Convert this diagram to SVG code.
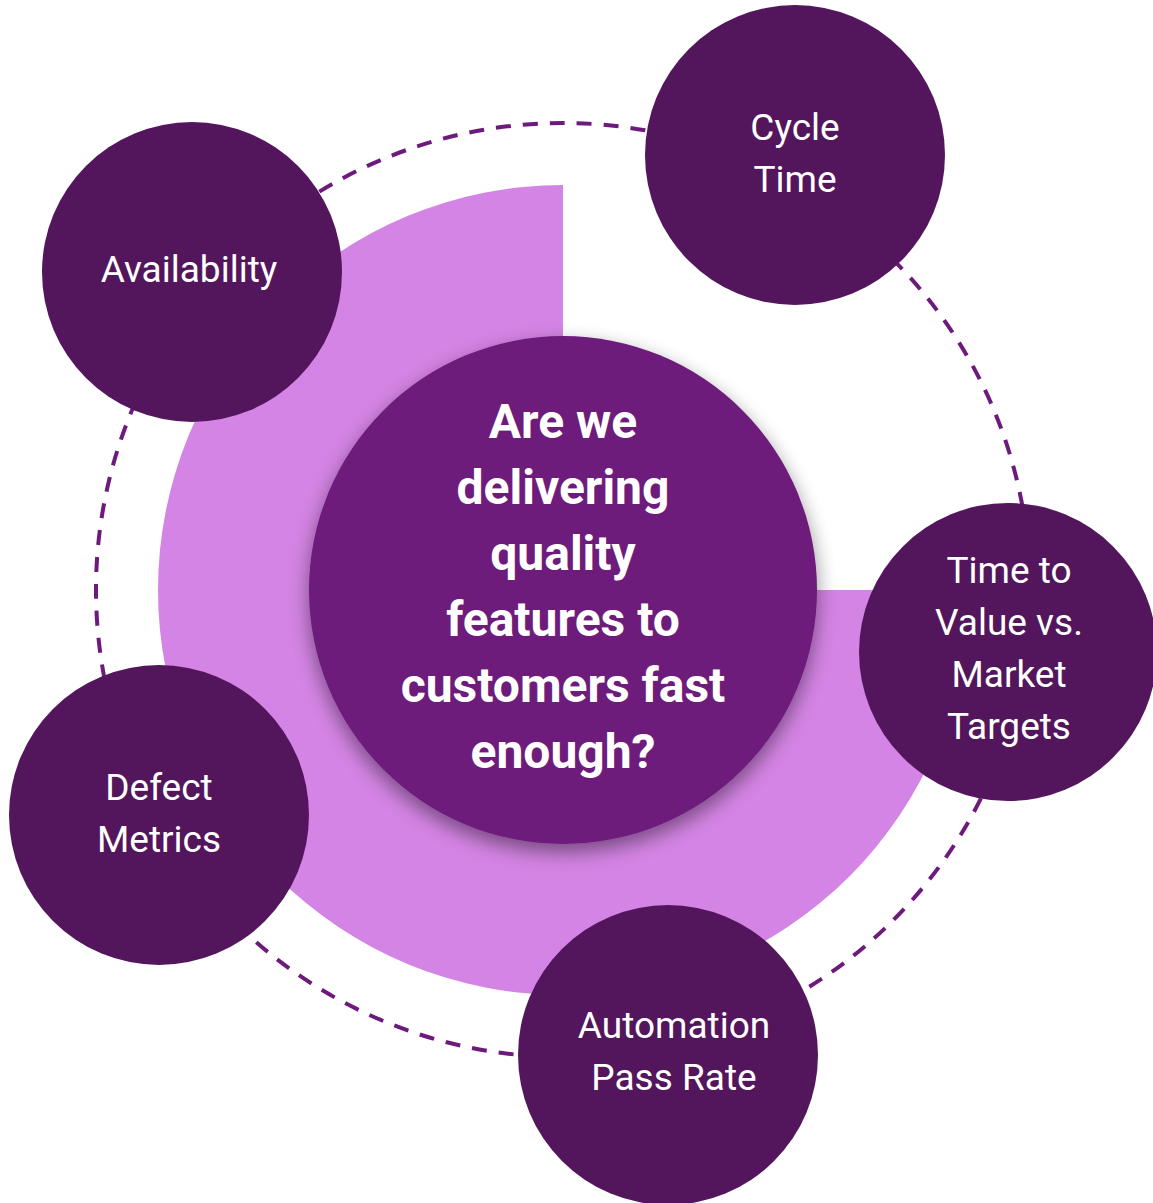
<svg xmlns="http://www.w3.org/2000/svg" width="1153" height="1203" viewBox="0 0 1153 1203">
  <style>
    .outer { fill: #53165C; }
    .lbl { font-family: Roboto, "Liberation Sans", sans-serif; font-size: 37px; fill: #FFFFFF; text-anchor: middle; }
    .q { font-family: Roboto, "Liberation Sans", sans-serif; font-size: 48px; font-weight: bold; fill: #FFFFFF; text-anchor: middle; }
    .ring { fill: none; stroke: #6E1A7C; stroke-width: 4; stroke-dasharray: 15 12; }
  </style>
  <defs>
    <filter id="shadow" x="-20%" y="-20%" width="140%" height="140%">
      <feGaussianBlur in="SourceAlpha" stdDeviation="10"/>
      <feOffset dx="0" dy="8" result="b"/>
      <feComponentTransfer><feFuncA type="linear" slope="0.45"/></feComponentTransfer>
      <feMerge><feMergeNode/><feMergeNode in="SourceGraphic"/></feMerge>
    </filter>
  </defs>
  <rect width="1153" height="1203" fill="#FFFFFF"/>
  <g id="connectors">
    <circle class="ring" cx="563" cy="590" r="467"/>
  </g>
  <g id="sector">
    <path d="M563,590 L563,185 A405,405 0 1,0 968,590 Z" fill="#D484E4"/>
  </g>
  <g id="center">
    <circle cx="563" cy="590" r="254" fill="#6E1A7C" filter="url(#shadow)"/>
    <text class="q" x="563" y="438">Are we</text>
    <text class="q" x="563" y="504">delivering</text>
    <text class="q" x="563" y="570">quality</text>
    <text class="q" x="563" y="636">features to</text>
    <text class="q" x="563" y="702">customers fast</text>
    <text class="q" x="563" y="768">enough?</text>
  </g>
  <g id="availability">
    <circle class="outer" cx="192" cy="272" r="150"/>
    <text class="lbl" x="189" y="282">Availability</text>
  </g>
  <g id="cycle-time">
    <circle class="outer" cx="795" cy="155" r="150"/>
    <text class="lbl" x="795" y="140">Cycle</text>
    <text class="lbl" x="795" y="192">Time</text>
  </g>
  <g id="time-to-value">
    <circle class="outer" cx="1008" cy="652" r="149"/>
    <text class="lbl" x="1009" y="583">Time to</text>
    <text class="lbl" x="1009" y="635">Value vs.</text>
    <text class="lbl" x="1009" y="687">Market</text>
    <text class="lbl" x="1009" y="739">Targets</text>
  </g>
  <g id="automation">
    <circle class="outer" cx="668" cy="1055" r="150"/>
    <text class="lbl" x="674" y="1038">Automation</text>
    <text class="lbl" x="674" y="1090">Pass Rate</text>
  </g>
  <g id="defect">
    <circle class="outer" cx="159" cy="815" r="150"/>
    <text class="lbl" x="159" y="800">Defect</text>
    <text class="lbl" x="159" y="852">Metrics</text>
  </g>
</svg>
